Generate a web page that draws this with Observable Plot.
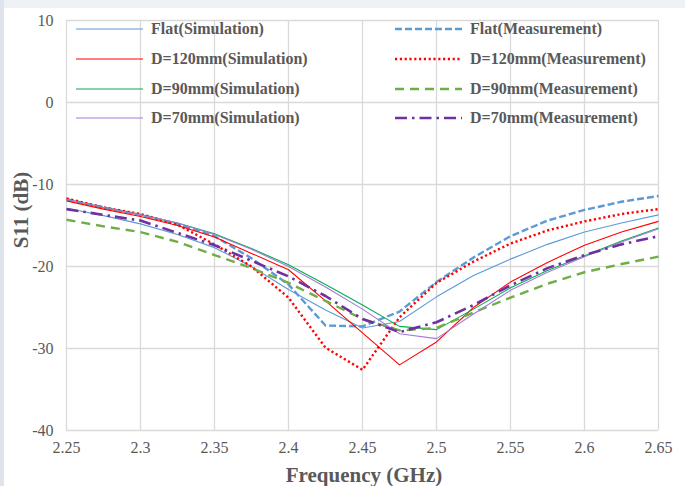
<!DOCTYPE html>
<html>
<head>
<meta charset="utf-8">
<script src="https://cdn.jsdelivr.net/npm/d3@7"></script>
<script src="https://cdn.jsdelivr.net/npm/@observablehq/plot@0.6"></script>
<style>
  body { margin: 0; background: #ffffff; }
  #wrap { position: relative; width: 685px; height: 486px; overflow: hidden; background: #fff; font-family: "Liberation Serif", "Times New Roman", serif; }
  #stripL { position: absolute; left: 0; top: 0; width: 4px; height: 486px; background: #dfe4ec; }
  #stripT { position: absolute; left: 0; top: 0; width: 685px; height: 8px; background: #eef1f5; }
  #chart { position: absolute; left: 0; top: 0; }
  .leg { position: absolute; display: flex; align-items: center; font-weight: bold; font-size: 16px; color: #595959; white-space: nowrap; }
  .leg svg { margin-right: 8px; }
  .title { position: absolute; font-weight: bold; font-size: 21px; color: #595959; white-space: nowrap; }
</style>
</head>
<body>
<div id="wrap">
  <div id="stripT"></div>
  <div id="stripL"></div>
  <div id="chart"></div>
  <div id="legend"></div>
  <div class="title" id="xt" style="left:364px; top:475px; transform: translate(-50%,-50%);">Frequency (GHz)</div>
  <div class="title" id="yt" style="left:21px; top:210px; transform: translate(-50%,-50%) rotate(-90deg);">S11 (dB)</div>
</div>
<script>
const freq = [2.25, 2.275, 2.30, 2.325, 2.35, 2.375, 2.40, 2.425, 2.45, 2.475, 2.50, 2.525, 2.55, 2.575, 2.60, 2.625, 2.65];
const flatSim  = [-12.9, -13.8, -14.8, -16.1, -17.7, -20.0, -22.8, -25.3, -27.5, -26.7, -23.7, -21.1, -19.1, -17.3, -15.8, -14.7, -13.7];
const flatMeas = [-11.8, -12.8, -13.7, -14.8, -16.3, -19.0, -22.2, -27.2, -27.3, -25.5, -21.9, -18.9, -16.3, -14.4, -13.1, -12.1, -11.4];
const d120Sim  = [-12.0, -13.0, -13.9, -15.0, -16.4, -18.4, -20.4, -24.2, -28.1, -32.0, -29.2, -25.0, -21.9, -19.5, -17.4, -15.8, -14.5];
const d120Meas = [-11.7, -12.8, -13.6, -14.9, -17.3, -20.0, -23.8, -29.9, -32.6, -26.2, -22.0, -19.4, -17.2, -15.6, -14.5, -13.6, -13.0];
const d90Sim   = [-11.8, -12.8, -13.7, -14.7, -16.0, -17.8, -19.8, -22.2, -24.7, -27.3, -27.7, -25.2, -22.6, -20.5, -18.7, -16.9, -15.3];
const d90Meas  = [-14.3, -15.1, -15.8, -17.0, -18.6, -20.2, -22.0, -24.2, -26.4, -27.8, -27.5, -25.6, -23.8, -22.1, -20.7, -19.7, -18.8];
const d70Sim   = [-11.8, -12.8, -13.7, -14.7, -16.1, -17.9, -20.0, -22.5, -25.2, -28.2, -28.8, -25.8, -22.9, -20.7, -18.8, -17.0, -15.4];
const d70Meas  = [-13.0, -13.7, -14.4, -15.9, -17.4, -19.3, -21.2, -23.6, -26.4, -28.0, -26.8, -24.7, -22.3, -20.2, -18.6, -17.3, -16.3];
const seriesNames = ["Flat(Simulation)", "Flat(Measurement)", "D=120mm(Simulation)", "D=120mm(Measurement)",
                     "D=90mm(Simulation)", "D=90mm(Measurement)", "D=70mm(Simulation)", "D=70mm(Measurement)"];
const xTicks = [2.25, 2.3, 2.35, 2.4, 2.45, 2.5, 2.55, 2.6, 2.65];
const yTicks = [-40, -30, -20, -10, 0, 10];

const seriesValues = [flatSim, flatMeas, d120Sim, d120Meas, d90Sim, d90Meas, d70Sim, d70Meas];
const styles = [
  {stroke: "#5B9BD5", strokeWidth: 1.1, dash: null},
  {stroke: "#5B9BD5", strokeWidth: 2.4, dash: "7 3"},
  {stroke: "#FF0000", strokeWidth: 1.1, dash: null},
  {stroke: "#FF0000", strokeWidth: 2.4, dash: "2.2 2.6"},
  {stroke: "#00B050", strokeWidth: 1.1, dash: null},
  {stroke: "#70AD47", strokeWidth: 2.4, dash: "9 6"},
  {stroke: "#A67AD8", strokeWidth: 1.1, dash: null},
  {stroke: "#7030A0", strokeWidth: 2.6, dash: "12 5 2.5 5"}
];

const marks = [
  Plot.gridX(xTicks, {stroke: "#d9d9d9", strokeOpacity: 1, strokeWidth: 1.3}),
  Plot.gridY(yTicks, {stroke: "#d9d9d9", strokeOpacity: 1, strokeWidth: 1.3}),
  Plot.axisX(xTicks, {tickSize: 0, tickPadding: 11, fontSize: 16, fill: "#595959", tickFormat: d => String(d), label: null}),
  Plot.axisY(yTicks, {tickSize: 0, tickPadding: 13, fontSize: 16, fill: "#595959", tickFormat: d => String(d), label: null})
];
seriesValues.forEach((vals, i) => {
  const rows = freq.map((f, j) => ({f, v: vals[j]}));
  const s = styles[i];
  marks.push(Plot.line(rows, {x: "f", y: "v", stroke: s.stroke, strokeWidth: s.strokeWidth,
    strokeDasharray: s.dash || undefined, strokeLinecap: "butt", strokeLinejoin: "round"}));
});

const chart = Plot.plot({
  width: 685, height: 486,
  marginLeft: 66, marginRight: 27, marginTop: 20, marginBottom: 56,
  x: {domain: [2.25, 2.65]},
  y: {domain: [-40, 10]},
  style: {fontFamily: "Liberation Serif, Times New Roman, serif", background: "transparent", overflow: "visible"},
  marks
});
document.getElementById("chart").appendChild(chart);

// legend (two columns, four rows)
const legend = document.getElementById("legend");
const rowsY = [29, 59, 89, 118];
const colX = [76, 395];
seriesNames.forEach((name, i) => {
  const s = styles[i];
  const col = i % 2, row = Math.floor(i / 2);
  const div = document.createElement("div");
  div.className = "leg";
  div.style.left = colX[col] + "px";
  div.style.top = (rowsY[row] - 10) + "px";
  div.style.height = "20px";
  const ns = "http://www.w3.org/2000/svg";
  const svg = document.createElementNS(ns, "svg");
  svg.setAttribute("width", 67); svg.setAttribute("height", 20);
  const ln = document.createElementNS(ns, "line");
  ln.setAttribute("x1", 0); ln.setAttribute("x2", 67);
  ln.setAttribute("y1", 10); ln.setAttribute("y2", 10);
  ln.setAttribute("stroke", s.stroke);
  ln.setAttribute("stroke-width", s.strokeWidth);
  if (s.dash) ln.setAttribute("stroke-dasharray", s.dash);
  svg.appendChild(ln);
  div.appendChild(svg);
  const t = document.createElement("span");
  t.textContent = name;
  div.appendChild(t);
  legend.appendChild(div);
});
</script>
</body>
</html>
